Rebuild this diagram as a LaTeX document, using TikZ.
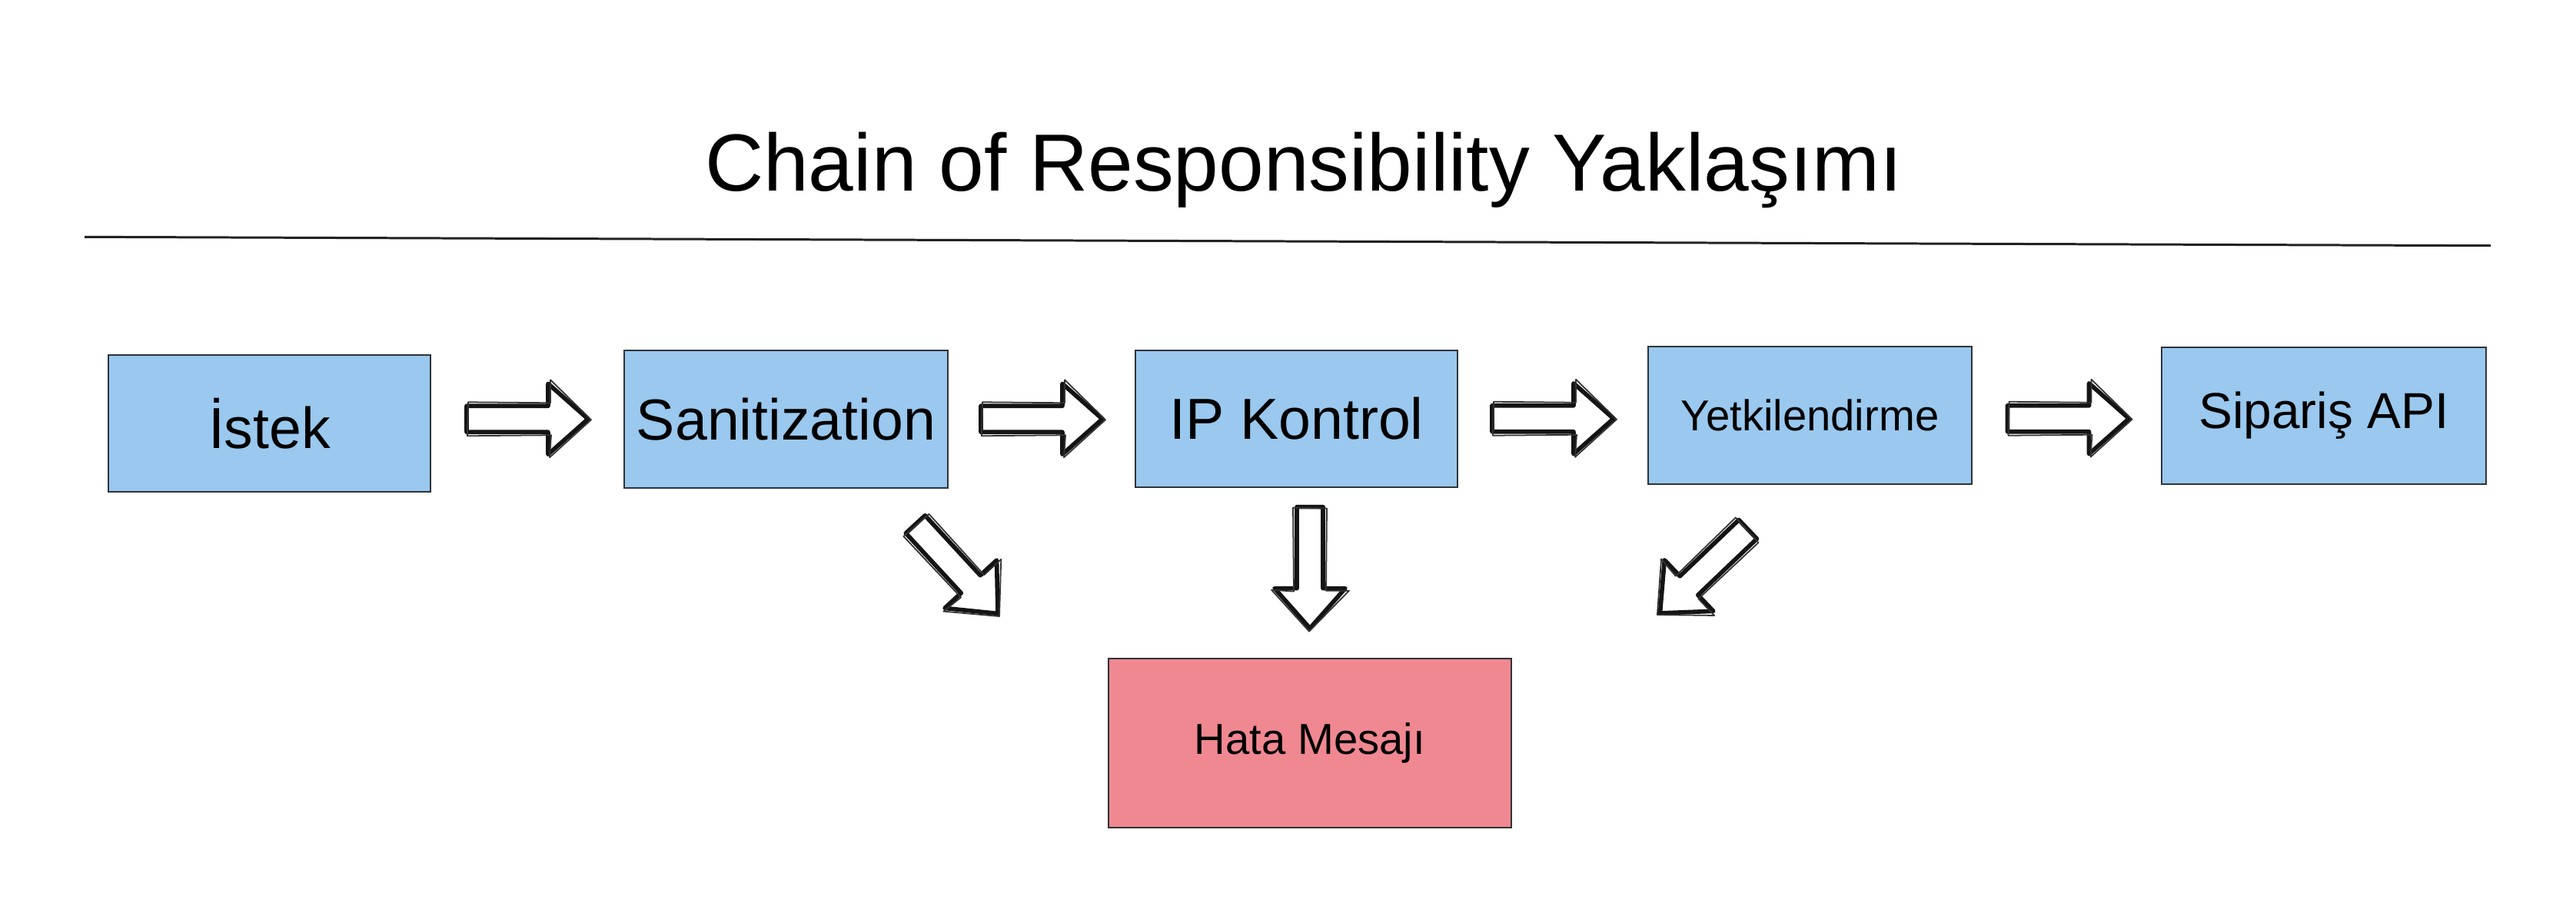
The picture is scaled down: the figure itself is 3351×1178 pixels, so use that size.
\documentclass[tikz,border=0pt]{standalone}
\usepackage{fontspec}
\setmainfont{Liberation Sans}
\usetikzlibrary{calc}
\definecolor{boxblue}{HTML}{9AC8EE}
\definecolor{boxpink}{HTML}{F08891}
\definecolor{boxline}{HTML}{2E3338}
\definecolor{rulegray}{HTML}{222222}
\tikzset{
  box/.style={draw=boxline, line width=0.75pt, inner sep=0pt, text=black, align=center},
  bluebox/.style={box, fill=boxblue},
  pinkbox/.style={box, fill=boxpink},
  arrowmain/.style={draw=black!92, line width=1.6pt, line join=round, fill=white},
  arrowthin/.style={draw=black!80, line width=0.5pt, line join=round},
  blockarrow/.pic={
    \draw[arrowmain] (-79,-17) -- (27,-17) -- (27,-46) -- (79,0) -- (27,46) -- (27,17) -- (-79,17) -- cycle;
    \draw[arrowthin] (-77,-22) -- (30,-21) -- (30,-51) -- (83,1) -- (29,50) -- (31,21) -- (-78,22) -- cycle;
  }
}
\newcommand\fs[1]{\fontsize{#1}{#1}\selectfont}
\begin{document}
\begin{tikzpicture}[x=0.01cm, y=-0.01cm]
  \useasboundingbox (0,0) rectangle (3351,1178);
  % title and rule
  \node[anchor=base, inner sep=0pt] (title) at (1696,248) {\fs{30}Chain of Responsibility Yaklaşımı};
  \coordinate (ruleL) at (110,308.3);
  \coordinate (ruleR) at (3240,319.7);
  \draw[rulegray, line width=0.85pt] (ruleL) -- (ruleR);
  % boxes
  \node[bluebox, minimum width=4.19cm, minimum height=1.78cm] (istek) at (350.5,551) {\fs{21.4}İstek};
  \node[bluebox, minimum width=4.21cm, minimum height=1.79cm] (san) at (1022.5,545.5) {\fs{21.4}Sanitization};
  \node[bluebox, minimum width=4.19cm, minimum height=1.78cm] (ip) at (1686.5,545) {\fs{21.4}IP Kontrol};
  \node[bluebox, minimum width=4.21cm, minimum height=1.79cm] (yet) at (2354.5,540.5) {\fs{16}Yetkilendirme};
  \node[bluebox, minimum width=4.22cm, minimum height=1.78cm] (sip) at (3023,541) {\fs{18.7}Sipariş API};
  \node[pinkbox, minimum width=5.24cm, minimum height=2.20cm] (hata) at (1704,967) {\fs{16}Hata Mesajı};
  % chain arrows
  \pic at ($(istek.east)!0.5!(san.west)+(0,-3)$) {blockarrow};
  \pic at ($(san.east)!0.5!(ip.west)$) {blockarrow};
  \pic at ($(ip.east)!0.5!(yet.west)+(0,2)$) {blockarrow};
  \pic at ($(yet.east)!0.5!(sip.west)+(2,4)$) {blockarrow};
  % arrows to error box
  \pic[rotate=-47.3] at ($(san.south east)+(10,104)$) {blockarrow};
  \pic[rotate=-90] at ($(hata.north)+(0,-117)$) {blockarrow};
  \pic[rotate=-136.3] at ($(yet.south west)+(74,112)$) {blockarrow};
\end{tikzpicture}
\end{document}
